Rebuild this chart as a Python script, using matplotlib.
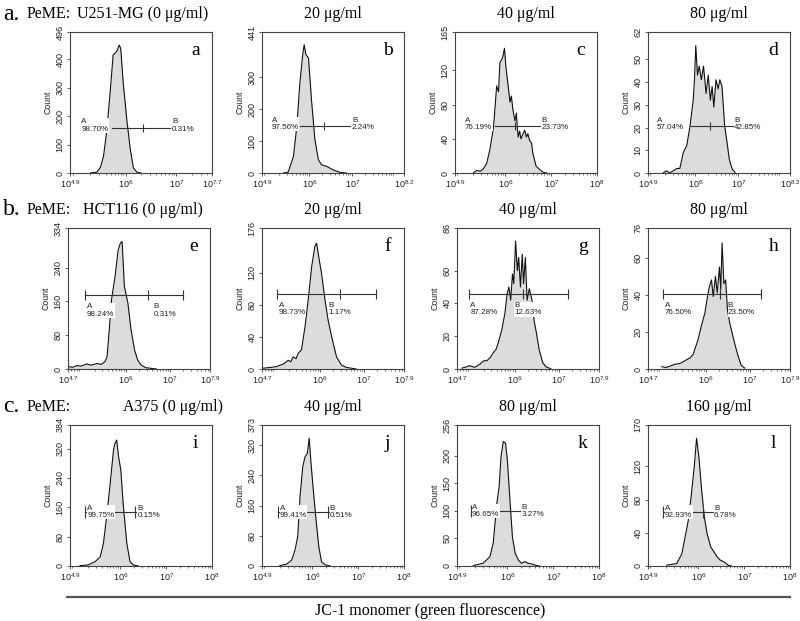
import numpy as np
import matplotlib
matplotlib.use('Agg')
import matplotlib.pyplot as plt
from matplotlib.ticker import FixedLocator, LogLocator, NullFormatter

plt.rcParams['font.family'] = 'Liberation Sans'
plt.rcParams['mathtext.fontset'] = 'custom'
plt.rcParams['mathtext.rm'] = 'Liberation Sans'
plt.rcParams['mathtext.default'] = 'regular'

# histogram outlines: log10(fluorescence), count
lx_a = [5.30, 5.43, 5.50, 5.56, 5.62, 5.69, 5.75, 5.82, 5.85, 5.87, 5.90, 5.95, 6.02, 6.09, 6.15, 6.22, 6.30]
ct_a = [0, 3, 20, 58, 140, 280, 415, 427, 440, 450, 438, 316, 187, 82, 18, 3, 0]
lx_b = [5.40, 5.51, 5.63, 5.71, 5.78, 5.85, 5.88, 5.92, 5.98, 6.05, 6.13, 6.21, 6.28, 6.40, 6.55, 6.71, 6.86]
ct_b = [0, 3, 52, 146, 282, 375, 401, 370, 360, 229, 104, 42, 26, 21, 10, 2, 0]
lx_c = [5.30, 5.37, 5.45, 5.52, 5.59, 5.66, 5.74, 5.81, 5.85, 5.88, 5.94, 5.98, 6.01, 6.06, 6.10, 6.13,
        6.16, 6.19, 6.21, 6.24, 6.26, 6.28, 6.31, 6.34, 6.38, 6.42, 6.46, 6.49, 6.53, 6.57, 6.60, 6.67, 6.75, 6.82, 6.90]
ct_c = [0, 3, 2, 5, 11, 27, 53, 102, 95, 129, 135, 146, 125, 102, 83, 90,
        76, 66, 61, 70, 53, 42, 49, 40, 45, 50, 42, 46, 38, 35, 23, 8, 4, 1, 0]
lx_d = [5.25, 5.33, 5.40, 5.49, 5.57, 5.64, 5.72, 5.80, 5.88, 5.95, 5.98, 6.01, 6.05, 6.09, 6.14, 6.19,
        6.25, 6.30, 6.35, 6.39, 6.43, 6.48, 6.53, 6.57, 6.62, 6.68, 6.74, 6.79, 6.85, 6.93]
ct_d = [0, 1, 0, 1, 2, 2, 9, 12, 21, 32, 41, 56, 43, 47, 41, 47,
        35, 43, 32, 38, 29, 41, 37, 41, 38, 21, 13, 6, 2, 0]
lx_e = [4.71, 4.80, 4.90, 5.00, 5.12, 5.22, 5.35, 5.45, 5.53, 5.58, 5.63, 5.68, 5.76, 5.83, 5.88, 5.92,
        5.97, 6.05, 6.12, 6.20, 6.27, 6.35, 6.46, 6.69]
ct_e = [6, 4, 8, 7, 12, 9, 13, 11, 17, 29, 93, 164, 219, 282, 298, 302,
        196, 156, 93, 45, 21, 9, 3, 0]
lx_f = [4.73, 4.90, 5.03, 5.12, 5.18, 5.29, 5.35, 5.40, 5.47, 5.52, 5.59, 5.67, 5.74, 5.82, 5.89, 5.93,
        5.99, 6.04, 6.12, 6.19, 6.27, 6.38, 6.49, 6.60, 6.82]
ct_f = [1, 2, 3, 5, 6, 11, 9, 15, 13, 20, 24, 53, 86, 128, 153, 157,
        136, 120, 86, 61, 40, 15, 5, 2, 0]
lx_g = [4.81, 4.99, 5.10, 5.22, 5.30, 5.37, 5.45, 5.52, 5.58, 5.63, 5.71, 5.78, 5.83, 5.87, 5.91, 5.95,
        5.98, 6.02, 6.06, 6.09, 6.13, 6.17, 6.20, 6.24, 6.28, 6.33, 6.39, 6.44, 6.49, 6.55, 6.63, 6.70, 6.82]
ct_g = [0.5, 2, 1, 3, 5, 5, 7, 10, 12, 16, 24, 34, 46, 50, 42, 58,
        52, 78, 60, 68, 50, 70, 52, 68, 42, 49, 42, 29, 22, 12, 4, 1.5, 0]
lx_h = [5.01, 5.10, 5.20, 5.30, 5.42, 5.50, 5.57, 5.65, 5.72, 5.83, 5.90, 5.98, 6.04, 6.08, 6.13, 6.17,
        6.22, 6.26, 6.31, 6.34, 6.37, 6.41, 6.45, 6.49, 6.54, 6.60, 6.65, 6.73, 6.80, 6.88]
ct_h = [1.3, 0.8, 1.6, 2.5, 3, 4, 5, 6, 8, 16, 23, 30, 39, 44, 48, 39,
        50, 41, 55, 43, 68, 46, 48, 32, 25, 19, 14, 7, 2, 0.5]
lx_i = [5.12, 5.30, 5.45, 5.56, 5.63, 5.70, 5.77, 5.85, 5.88, 5.92, 5.96, 6.01, 6.06, 6.14, 6.21, 6.28, 6.39]
ct_i = [1, 3, 12, 25, 62, 134, 216, 316, 334, 343, 298, 261, 171, 62, 12, 3, 0]
lx_j = [5.29, 5.44, 5.55, 5.62, 5.68, 5.73, 5.79, 5.84, 5.89, 5.93, 5.97, 6.02, 6.08, 6.14, 6.20, 6.28, 6.39]
ct_j = [1, 5, 16, 42, 78, 183, 263, 289, 298, 338, 272, 201, 122, 51, 11, 3, 0]
lx_k = [5.26, 5.47, 5.62, 5.69, 5.77, 5.82, 5.86, 5.91, 5.96, 6.00, 6.06, 6.11, 6.17, 6.24, 6.31, 6.38,
        6.45, 6.52, 6.63, 6.70]
ct_k = [1, 5, 17, 41, 114, 144, 198, 226, 223, 192, 114, 53, 23, 11, 5, 8,
        5, 4, 1, 0]
lx_l = [5.31, 5.53, 5.64, 5.71, 5.78, 5.85, 5.91, 5.96, 6.01, 6.07, 6.13, 6.19, 6.27, 6.34, 6.41, 6.48,
        6.56, 6.65, 6.72]
ct_l = [1, 3, 15, 35, 55, 88, 120, 154, 132, 92, 59, 39, 23, 17, 11, 7,
        5, 1, 0]

panel_letters = list('abcdefghijkl')
x_lo = [4.9, 4.9, 4.9, 4.9, 4.7, 4.7, 4.7, 4.7, 4.9, 4.9, 4.9, 4.9]
x_hi = [7.7, 8.2, 8.0, 8.2, 7.9, 7.9, 7.9, 7.9, 8.0, 8.0, 8.0, 8.0]
y_top = [496, 441, 165, 62, 334, 176, 86, 76, 384, 373, 256, 170]
y_step = [100, 100, 40, 10, 80, 40, 20, 20, 80, 80, 50, 40]

# marker gates (log10 positions and height in counts)
gate_y = [160, 147, 55, 20.7, 175, 93.6, 45.7, 40.4, 147, 143, 100, 65]
gate_left = [5.73, 5.78, 5.77, 5.90, 5.08, 5.04, 4.97, 5.04, 5.23, 5.25, 5.21, 5.23]
gate_mid = [6.34, 6.34, 6.20, 6.34, 6.50, 6.46, 6.19, 6.32, 6.32, 6.34, 6.29, 6.10]
gate_right = [6.87, 6.95, 6.76, 6.88, 7.29, 7.27, 7.20, 7.25, 6.60, 6.62, 6.57, 6.40]
lab_a_x = [5.12, 5.13, 5.12, 5.10, 5.13, 5.08, 5.00, 5.08, 5.28, 5.29, 5.23, 5.27]
lab_b_x = [6.91, 6.99, 6.79, 6.90, 6.63, 6.19, 6.00, 6.50, 6.37, 6.38, 6.31, 6.34]
pct_a = ['98.70%', '97.56%', '76.19%', '57.04%', '98.24%', '98.73%', '87.28%', '76.50%',
         '99.75%', '99.41%', '96.65%', '92.93%']
pct_b = ['0.31%', '2.24%', '23.73%', '42.85%', '0.31%', '1.17%', '12.63%', '23.50%',
         '0.15%', '0.51%', '3.27%', '6.78%']

doses = [['20 μg/ml', '40 μg/ml', '80 μg/ml'],
         ['20 μg/ml', '40 μg/ml', '80 μg/ml'],
         ['40 μg/ml', '80 μg/ml', '160 μg/ml']]
row_tags = ['a.', 'b.', 'c.']
cell_lines = ['U251-MG (0 μg/ml)', 'HCT116 (0 μg/ml)', 'A375 (0 μg/ml)']

lx_all = [lx_a, lx_b, lx_c, lx_d, lx_e, lx_f, lx_g, lx_h, lx_i, lx_j, lx_k, lx_l]
ct_all = [ct_a, ct_b, ct_c, ct_d, ct_e, ct_f, ct_g, ct_h, ct_i, ct_j, ct_k, ct_l]

W, H = 800, 621
fig = plt.figure(figsize=(8, 6.21), dpi=100)

row_top = [32, 228, 425]
col_left = [[70, 262, 455, 648], [68, 262, 457, 648], [70, 262, 457, 648]]
pw, ph = 142, 141
edge = '#444444'
serif = 'Liberation Serif'

for k in range(12):
    r, c = divmod(k, 4)
    L, T = col_left[r][c], row_top[r]
    ax = fig.add_axes([L / W, 1 - (T + ph) / H, pw / W, ph / H])
    xs = 10 ** np.array(lx_all[k])
    ys = np.array(ct_all[k])
    ax.fill_between(xs, ys, color='#dcdcdc', lw=0, zorder=1)
    ax.plot(xs, ys, color='#111111', lw=0.8, zorder=2)
    ax.set_xscale('log')
    ax.set_xlim(10 ** x_lo[k], 10 ** x_hi[k])
    ax.set_ylim(0, y_top[k])

    xt = [10 ** x_lo[k], 1e6, 1e7, 10 ** x_hi[k]]
    xl = ['$10^{%g}$' % x_lo[k], '$10^{6}$', '$10^{7}$']
    xl.append('$10^{8}$' if x_hi[k] == 8.0 else '$10^{%g}$' % x_hi[k])
    ax.xaxis.set_major_locator(FixedLocator(xt))
    ax.set_xticklabels(xl)
    ax.xaxis.set_minor_locator(LogLocator(base=10, subs=np.arange(2, 10)))
    ax.xaxis.set_minor_formatter(NullFormatter())
    yt = list(np.arange(0, y_top[k] - y_step[k] * 0.6, y_step[k])) + [y_top[k]]
    ax.set_yticks(yt)
    ax.set_yticklabels([str(int(v)) for v in yt], rotation=90, va='center')
    ax.tick_params(axis='both', which='major', labelsize=6.5, length=2.5, width=0.6,
                   color=edge, pad=1.5, labelcolor='#222222')
    ax.tick_params(axis='x', which='minor', length=1.5, width=0.5, color=edge)
    ax.set_ylabel('Count', fontsize=6.3, labelpad=2, color='#222222')
    for s in ax.spines.values():
        s.set_color(edge)
        s.set_linewidth(0.8)

    # gate marker
    gy = gate_y[k]
    lc = '#333333'
    ax.plot([10 ** gate_left[k], 10 ** gate_right[k]], [gy, gy], color=lc, lw=0.8, zorder=3)
    if r == 0:
        ticks = [gate_mid[k]]
        msz = 6
    else:
        ticks = [gate_left[k], gate_mid[k], gate_right[k]]
        msz = 7 if r == 1 else 8
    ax.plot(10 ** np.array(ticks), [gy] * len(ticks), ls='none', marker='|',
            ms=msz, mew=0.8, color=lc, zorder=3)
    box = dict(facecolor='white', edgecolor='none', pad=0.2)
    dy = {0: 1.5, 1: -11, 2: 0}[r]
    for lx, txt in [(lab_a_x[k], 'A\n' + pct_a[k]), (lab_b_x[k], 'B\n' + pct_b[k])]:
        ax.annotate(txt, xy=(10 ** lx, gy), xytext=(0, dy), textcoords='offset points',
                    ha='left', va='center', fontsize=5.8, linespacing=1.05,
                    color='#222222', bbox=box, zorder=4)

    ax.text(0.885, 0.87, panel_letters[k], transform=ax.transAxes, ha='center',
            va='center', fontsize=14, family=serif)

    if c > 0:
        fig.text((L + pw / 2) / W, 1 - (T - 18) / H, doses[r][c - 1], ha='center',
                 va='center', fontsize=11.5, family=serif)

# row headings
for r in range(3):
    yy = 1 - (row_top[r] - 18) / H
    fig.text(3 / W, yy, row_tags[r], ha='left', va='center', fontsize=17, family=serif)
    fig.text(27 / W, yy, 'PeME:', ha='left', va='center', fontsize=11.5, family=serif)
    fig.text([77, 83, 123][r] / W, yy, cell_lines[r], ha='left', va='center',
             fontsize=11.5, family=serif)

fig.add_artist(plt.Line2D([67 / W, 790 / W], [1 - 597 / H, 1 - 597 / H],
                          color='#555555', lw=1.6))
fig.text(430 / W, 1 - 611 / H, 'JC-1 monomer (green fluorescence)', ha='center',
         va='center', fontsize=11.5, family=serif)

fig.savefig('out.png', dpi=100)
